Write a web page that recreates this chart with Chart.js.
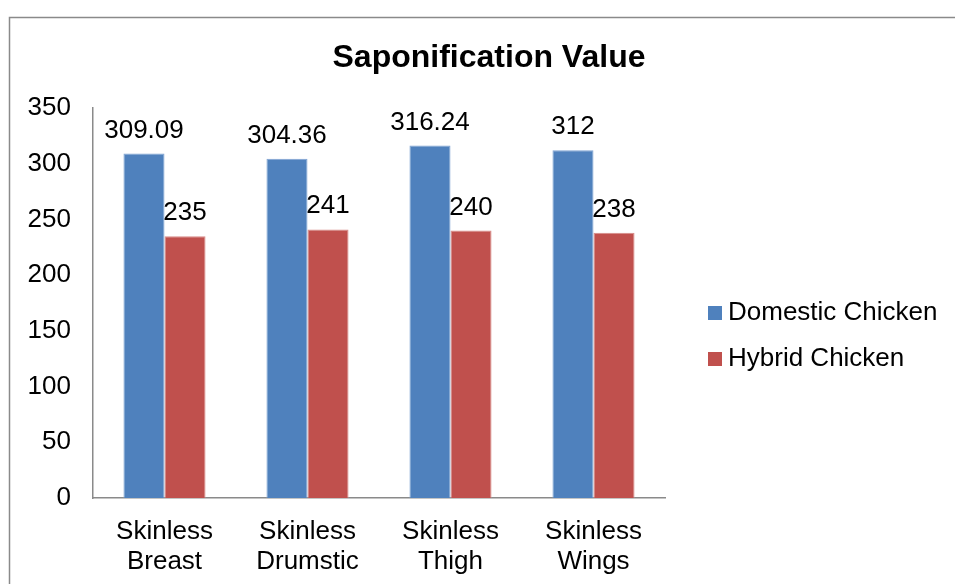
<!DOCTYPE html>
<html>
<head>
<meta charset="utf-8">
<script src="https://cdn.jsdelivr.net/npm/chart.js@4"></script>
<style>
html,body{margin:0;padding:0;background:#fff;}
#wrap{width:955px;height:584px;position:relative;}
</style>
</head>
<body>
<div id="wrap"><canvas id="c" width="955" height="584"></canvas></div>
<script>
const categories = [["Skinless","Breast"],["Skinless","Drumstic"],["Skinless","Thigh"],["Skinless","Wings"]];
const domesticValues = [309.09, 304.36, 316.24, 312];
const hybridValues = [235, 241, 240, 238];
const domesticLabels = ["309.09","304.36","316.24","312"];
const hybridLabels = ["235","241","240","238"];
const seriesNames = ["Domestic Chicken","Hybrid Chicken"];
const yTicks = [0,50,100,150,200,250,300,350];
const chartTitle = "Saponification Value";

const FONT = "'Liberation Sans', Arial, sans-serif";
const FS = 26;

const framePlugin = {
  id: 'frame',
  beforeDraw(chart){
    const ctx = chart.ctx;
    ctx.save();
    ctx.fillStyle = '#fff';
    ctx.fillRect(0,0,chart.width,chart.height);
    ctx.strokeStyle = '#8a8a8a';
    ctx.lineWidth = 1.5;
    ctx.beginPath();
    ctx.moveTo(9.5, chart.height);
    ctx.lineTo(9.5, 17.5);
    ctx.lineTo(chart.width, 17.5);
    ctx.stroke();
    ctx.restore();
  },
  afterDraw(chart){
    const ctx = chart.ctx;
    ctx.save();
    ctx.font = "bold 32px " + FONT;
    ctx.fillStyle = '#000';
    ctx.textAlign = 'center';
    ctx.textBaseline = 'alphabetic';
    ctx.fillText(chartTitle, 489, 67);
    ctx.restore();
  }
};

const labelPlugin = {
  id: 'valueLabels',
  afterDatasetsDraw(chart){
    const ctx = chart.ctx;
    ctx.save();
    ctx.font = FS + "px " + FONT;
    ctx.fillStyle = '#000';
    ctx.textAlign = 'center';
    ctx.textBaseline = 'alphabetic';
    chart.data.datasets.forEach((ds, di) => {
      const meta = chart.getDatasetMeta(di);
      meta.data.forEach((bar, i) => {
        ctx.fillText(ds.valueLabels[i], bar.x, bar.y - 16);
      });
    });
    ctx.restore();
  }
};

const legendPlugin = {
  id: 'sideLegend',
  afterDraw(chart){
    const ctx = chart.ctx;
    ctx.save();
    ctx.font = FS + "px " + FONT;
    ctx.textAlign = 'left';
    ctx.textBaseline = 'middle';
    chart.data.datasets.forEach((ds, di) => {
      const cy = 313 + di * 46;
      ctx.fillStyle = ds.backgroundColor;
      ctx.fillRect(708, cy - 7, 14, 14);
      ctx.fillStyle = '#000';
      ctx.fillText(ds.label, 728, cy);
    });
    ctx.restore();
  }
};

new Chart(document.getElementById('c'), {
  type: 'bar',
  data: {
    labels: categories,
    datasets: [
      { label: seriesNames[0], data: domesticValues, valueLabels: domesticLabels,
        backgroundColor: '#4F81BD', borderColor: '#7FA3D3', borderWidth: 1,
        categoryPercentage: 0.574, barPercentage: 1.0 },
      { label: seriesNames[1], data: hybridValues, valueLabels: hybridLabels,
        backgroundColor: '#C0504D', borderColor: '#D88A88', borderWidth: 1,
        categoryPercentage: 0.574, barPercentage: 1.0 }
    ]
  },
  options: {
    responsive: false,
    animation: false,
    devicePixelRatio: 1,
    layout: { padding: { left: 0, right: 290, top: 108, bottom: 0 } },
    plugins: {
      legend: { display: false },
      tooltip: { enabled: false },
      title: { display: false }
    },
    scales: {
      x: {
        grid: { display: false, drawTicks: false },
        border: { display: true, color: '#8a8a8a', width: 1.5 },
        ticks: { color: '#000', font: { family: FONT, size: FS, lineHeight: 1.15 }, padding: 19, maxRotation: 0, autoSkip: false },
        afterFit(axis){ axis.height = 86; }
      },
      y: {
        min: 0, max: 350,
        afterBuildTicks(axis){ axis.ticks = yTicks.map(v => ({ value: v })); },
        grid: { display: false, drawTicks: false },
        border: { display: true, color: '#8a8a8a', width: 1.5 },
        ticks: { color: '#000', font: { family: FONT, size: FS }, padding: 22 },
        afterFit(axis){ axis.width = 93; }
      }
    }
  },
  plugins: [framePlugin, labelPlugin, legendPlugin]
});
</script>
</body>
</html>
